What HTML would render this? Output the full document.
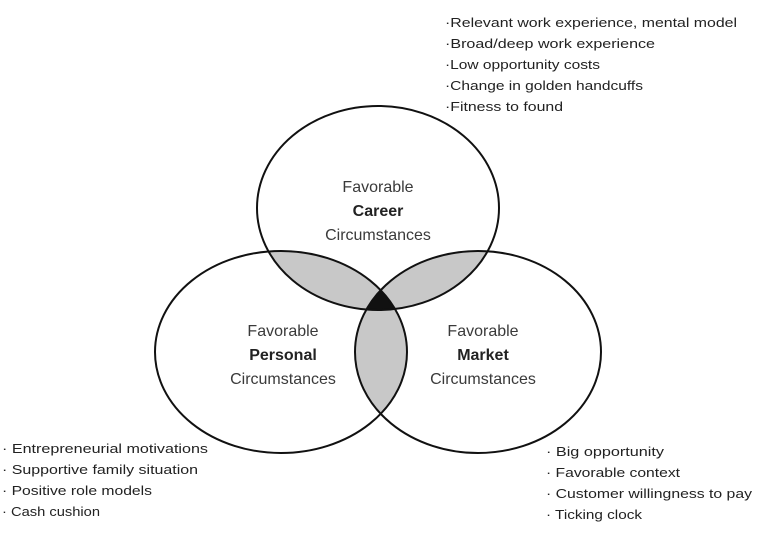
<!DOCTYPE html>
<html><head><style>html,body{margin:0;padding:0;background:#fff;}svg{display:block}</style></head>
<body>
<svg width="763" height="534" viewBox="0 0 763 534" xmlns="http://www.w3.org/2000/svg" font-family="Liberation Sans, sans-serif">
<defs>
<clipPath id="cT"><ellipse cx="378" cy="208" rx="121" ry="102"/></clipPath>
<clipPath id="cL"><ellipse cx="281" cy="352" rx="126" ry="101"/></clipPath>
<clipPath id="cR"><ellipse cx="478" cy="352" rx="123" ry="101"/></clipPath>
</defs>
<g clip-path="url(#cT)"><ellipse cx="281" cy="352" rx="126" ry="101" fill="#c8c8c8"/><ellipse cx="478" cy="352" rx="123" ry="101" fill="#c8c8c8"/></g>
<g clip-path="url(#cL)"><ellipse cx="478" cy="352" rx="123" ry="101" fill="#c8c8c8"/></g>
<g clip-path="url(#cT)"><g clip-path="url(#cL)"><ellipse cx="478" cy="352" rx="123" ry="101" fill="#111"/></g></g>
<g fill="none" stroke="#111" stroke-width="2">
<ellipse cx="378" cy="208" rx="121" ry="102"/>
<ellipse cx="281" cy="352" rx="126" ry="101"/>
<ellipse cx="478" cy="352" rx="123" ry="101"/>
</g>
<g font-size="16" fill="#3a3a3a" text-anchor="middle">
<text x="378" y="192">Favorable</text>
<text x="378" y="216" font-weight="bold" fill="#222">Career</text>
<text x="378" y="240">Circumstances</text>
<text x="283" y="336">Favorable</text>
<text x="283" y="360" font-weight="bold" fill="#222">Personal</text>
<text x="283" y="384">Circumstances</text>
<text x="483" y="336">Favorable</text>
<text x="483" y="360" font-weight="bold" fill="#222">Market</text>
<text x="483" y="384">Circumstances</text>
</g>
<g font-size="13" fill="#222">
<text x="445" y="27" textLength="292" lengthAdjust="spacingAndGlyphs">·Relevant work experience, mental model</text>
<text x="445" y="48" textLength="210" lengthAdjust="spacingAndGlyphs">·Broad/deep work experience</text>
<text x="445" y="69" textLength="155" lengthAdjust="spacingAndGlyphs">·Low opportunity costs</text>
<text x="445" y="90" textLength="198" lengthAdjust="spacingAndGlyphs">·Change in golden handcuffs</text>
<text x="445" y="111" textLength="118" lengthAdjust="spacingAndGlyphs">·Fitness to found</text>
<text x="2" y="453" textLength="206" lengthAdjust="spacingAndGlyphs">· Entrepreneurial motivations</text>
<text x="2" y="474" textLength="196" lengthAdjust="spacingAndGlyphs">· Supportive family situation</text>
<text x="2" y="495" textLength="150" lengthAdjust="spacingAndGlyphs">· Positive role models</text>
<text x="2" y="516" textLength="98" lengthAdjust="spacingAndGlyphs">· Cash cushion</text>
<text x="546" y="456" textLength="118" lengthAdjust="spacingAndGlyphs">· Big opportunity</text>
<text x="546" y="477" textLength="134" lengthAdjust="spacingAndGlyphs">· Favorable context</text>
<text x="546" y="498" textLength="206" lengthAdjust="spacingAndGlyphs">· Customer willingness to pay</text>
<text x="546" y="519" textLength="96" lengthAdjust="spacingAndGlyphs">· Ticking clock</text>
</g>
</svg>
</body></html>
